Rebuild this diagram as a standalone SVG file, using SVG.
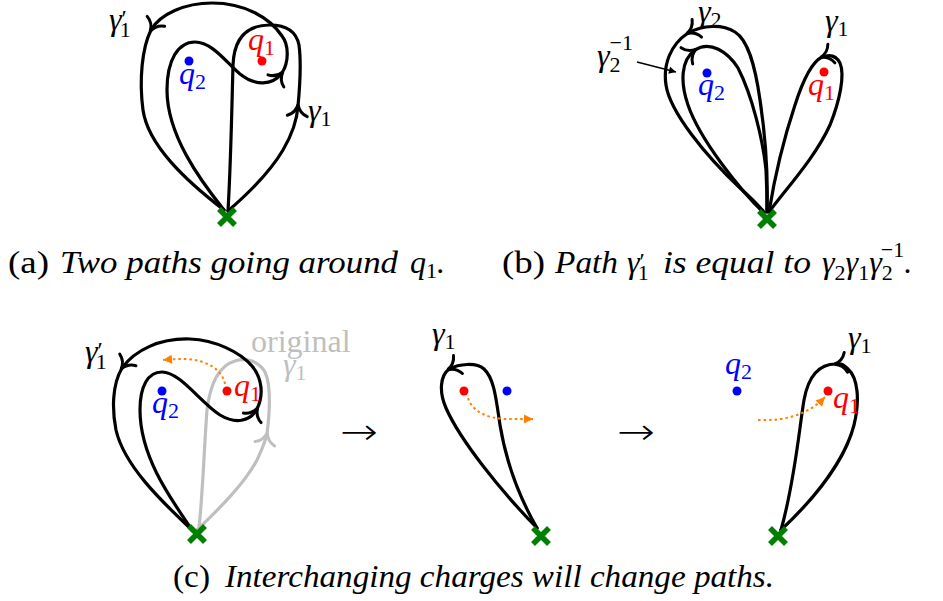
<svg xmlns="http://www.w3.org/2000/svg" width="943" height="601" viewBox="0 0 943 601">
<style>
.p{fill:none;stroke:#000;stroke-width:3.2;stroke-linecap:round;stroke-linejoin:round}
.pe{marker-end:url(#to)}
.gr{fill:none;stroke:#bfbfbf;stroke-width:3.2;stroke-linecap:round}
.ge{marker-end:url(#tog)}
.o{fill:none;stroke:#ff8000;stroke-width:2;stroke-dasharray:2.5 3;marker-end:url(#oa)}
.x{fill:none;stroke:#008000;stroke-width:5.5}
text{font-family:'Liberation Serif','DejaVu Serif',serif}
.m{font-style:italic;font-size:32px}
.s{font-style:normal;font-size:22px}
.pr{font-style:normal;font-size:24px}
.cap{font-size:32px}
.it{font-style:italic}
.red{fill:#ff0000}
.blue{fill:#0000ff}
.gt{fill:#bfbfbf}
.arr{font-family:'DejaVu Sans',sans-serif;font-size:36px;font-weight:200}
</style>
<defs>
<marker id="to" viewBox="-12 -12 15 24" markerWidth="15" markerHeight="24" refX="0" refY="0" orient="auto" markerUnits="userSpaceOnUse" overflow="visible"><path d="M-10,-10 C-8,-4.5 -3.5,-1.2 1.5,0 C-3.5,1.2 -8,4.5 -10,10" fill="none" stroke="#000" stroke-width="3" stroke-linecap="round"/></marker>
<marker id="tog" viewBox="-12 -12 15 24" markerWidth="15" markerHeight="24" refX="0" refY="0" orient="auto" markerUnits="userSpaceOnUse" overflow="visible"><path d="M-10,-10 C-8,-4.5 -3.5,-1.2 1.5,0 C-3.5,1.2 -8,4.5 -10,10" fill="none" stroke="#bfbfbf" stroke-width="3" stroke-linecap="round"/></marker>
<marker id="oa" viewBox="-10 -6 11 12" markerWidth="11" markerHeight="12" refX="0" refY="0" orient="auto" markerUnits="userSpaceOnUse" overflow="visible"><path d="M-9,-4.5 L0,0 L-9,4.5 z" fill="#ff8000"/></marker>
<marker id="ka" viewBox="-8 -5 9 10" markerWidth="9" markerHeight="10" refX="0" refY="0" orient="auto" markerUnits="userSpaceOnUse" overflow="visible"><path d="M-7,-3.5 L0,0 L-7,3.5 z" fill="#000"/></marker>
<path id="cross" d="M-8,-8 L8,8 M-8,8 L8,-8"/>
</defs>
<rect width="943" height="601" fill="#fff"/>

<!-- Panel (a) -->
<g id="panel-a">
  <g id="a-connectors">
    <path class="p pe" d="M224,210 C200,180 167,135 167,90 C167,60 178,42 195,42 C212,42 226,62 240,74 C255,86 272,86 282,73"/>
    <path class="p pe" d="M282,73 C289,62 289,45 282,36 C270,18 245,3 212,3 C185,3 160,14 151,30"/>
    <path class="p" d="M151,30 C142,48 139,80 143,110 C148,145 185,180 224,210"/>
    <path class="p pe" d="M228,211 C250,192 270,172 283,150 C293,133 297,120 298,106"/>
    <path class="p" d="M298,106 C300,85 301,60 299,45 C296,30 285,25 270,25 C245,25 234,40 233,65 C232,100 231,160 228,211"/>
  </g>
  <g id="a-q2"><circle cx="189" cy="61" r="4.5" fill="#0000ff"/><text class="m blue" x="179" y="84">q<tspan class="s" dy="5">2</tspan></text></g>
  <g id="a-q1"><circle cx="262" cy="61" r="4.5" fill="#ff0000"/><text class="m red" x="248" y="50">q<tspan class="s" dy="5">1</tspan></text></g>
  <g id="a-labels">
    <text class="m" x="109" y="30">γ<tspan class="pr" dy="-4">′</tspan><tspan class="s" dx="-7" dy="11">1</tspan></text>
    <text class="m" x="308" y="121">γ<tspan class="s" dy="5">1</tspan></text>
  </g>
  <g id="a-base"><use href="#cross" class="x" x="227" y="217"/></g>
</g>

<!-- Panel (b) -->
<g id="panel-b">
  <g id="b-connectors">
    <path class="p pe" d="M767,212 C768,180 766,140 760,100 C755,65 748,40 735,32 C722,24 703,25 688,33"/>
    <path class="p" d="M688,33 C670,45 663,65 666,85 C670,112 705,155 740,188 C750,197 758,205 764,212"/>
    <path class="p pe" d="M764,213 C740,190 700,140 688,105 C680,82 681,60 695,50"/>
    <path class="p" d="M695,50 C710,40 728,52 738,68 C752,95 763,140 766,170 C767,190 767,205 767,212"/>
    <path class="p pe" d="M769,212 C785,190 815,158 830,125 C840,100 845,75 840,63 C836,55 830,54 822,57"/>
    <path class="p" d="M822,57 C812,62 803,80 795,105 C785,135 775,175 769,212"/>
    <path d="M637,62 L676,72" fill="none" stroke="#000" stroke-width="1.3" marker-end="url(#ka)"/>
  </g>
  <g id="b-q2"><circle cx="707" cy="73" r="4.5" fill="#0000ff"/><text class="m blue" x="698" y="95">q<tspan class="s" dy="5">2</tspan></text></g>
  <g id="b-q1"><circle cx="824" cy="72" r="4.5" fill="#ff0000"/><text class="m red" x="808" y="95">q<tspan class="s" dy="5">1</tspan></text></g>
  <g id="b-labels">
    <text class="m" x="698" y="22">γ<tspan class="s" dy="5">2</tspan></text>
    <text class="m" x="825" y="31">γ<tspan class="s" dy="5">1</tspan></text>
    <text class="m" x="597" y="66">γ<tspan class="s" dy="6">2</tspan><tspan class="s" dx="-11" dy="-22">−1</tspan></text>
  </g>
  <g id="b-base"><use href="#cross" class="x" x="767" y="219"/></g>
</g>

<!-- Captions a, b -->
<g id="caption-a">
  <text class="cap" x="8" y="273" textLength="41" lengthAdjust="spacingAndGlyphs">(a)</text>
  <text class="cap it" x="60" y="273" textLength="338" lengthAdjust="spacingAndGlyphs">Two paths going around</text>
  <text class="m" x="410" y="273">q<tspan class="s" dy="5">1</tspan><tspan dy="-5">.</tspan></text>
</g>
<g id="caption-b">
  <text class="cap" x="502" y="273" textLength="43" lengthAdjust="spacingAndGlyphs">(b)</text>
  <text class="cap it" x="555" y="273" textLength="63" lengthAdjust="spacingAndGlyphs">Path</text>
  <text class="m" x="627" y="273">γ<tspan class="pr" dy="-4">′</tspan><tspan class="s" dx="-7" dy="11">1</tspan></text>
  <text class="cap it" x="663" y="273" textLength="148" lengthAdjust="spacingAndGlyphs">is equal to</text>
  <text class="m" x="822" y="273">γ<tspan class="s" dy="7">2</tspan><tspan dy="-7">γ</tspan><tspan class="s" dy="7">1</tspan><tspan dy="-7">γ</tspan><tspan class="s" dy="7">2</tspan><tspan class="s" dx="-12" dy="-23">−1</tspan><tspan dy="16">.</tspan></text>
</g>

<!-- Panel (c) left -->
<g id="panel-c1">
  <g id="c1-connectors">
    <path class="gr ge" d="M197,530 C220,508 245,483 257,460 C262,449 265,443 267,434"/>
    <path class="gr" d="M267,434 C270,410 271,385 265,372 C258,360 245,358 235,361 C218,366 210,385 207,410 C204,450 203,490 199,528"/>
    <path class="p pe" d="M192,530 C168,495 140,455 140,410 C140,386 148,372 162,372 C180,372 200,402 220,415 C235,424 250,422 257,409"/>
    <path class="p pe" d="M257,409 C264,395 262,378 252,366 C240,352 215,340 190,339 C160,338 135,350 122,368"/>
    <path class="p" d="M122,368 C112,385 112,410 116,430 C124,465 160,500 192,530"/>
    <path class="o" d="M225,384 C222,369 207,361 188,359 C180,359 174,359 163,360"/>
  </g>
  <g id="c1-q2"><circle cx="162" cy="391" r="4.5" fill="#0000ff"/><text class="m blue" x="152" y="413">q<tspan class="s" dy="5">2</tspan></text></g>
  <g id="c1-q1"><circle cx="227" cy="391" r="4.5" fill="#ff0000"/><text class="m red" x="234" y="396">q<tspan class="s" dy="5">1</tspan></text></g>
  <g id="c1-labels">
    <text class="m" x="85" y="362">γ<tspan class="pr" dy="-4">′</tspan><tspan class="s" dx="-7" dy="11">1</tspan></text>
    <text class="cap gt" x="251" y="352">original</text>
    <text class="m gt" x="283" y="375">γ<tspan class="s" dy="5">1</tspan></text>
  </g>
  <g id="c1-base"><use href="#cross" class="x" x="197" y="534"/></g>
</g>

<text class="arr" x="340" y="444" textLength="38" lengthAdjust="spacingAndGlyphs">→</text>

<!-- Panel (c) middle -->
<g id="panel-c2">
  <g id="c2-connectors">
    <path class="p pe" d="M537,528 C515,490 505,455 500,425 C496,398 494,378 484,369 C476,362 459,364 449,369"/>
    <path class="p" d="M449,369 C440,376 439,392 446,408 C460,440 500,490 537,528"/>
    <path class="o" d="M468,398 C472,411 486,418 505,419 L533,419"/>
  </g>
  <g id="c2-q1"><circle cx="464" cy="391" r="4.5" fill="#ff0000"/></g>
  <g id="c2-q2"><circle cx="507" cy="391" r="4.5" fill="#0000ff"/></g>
  <g id="c2-labels"><text class="m" x="432" y="344">γ<tspan class="s" dy="5">1</tspan></text></g>
  <g id="c2-base"><use href="#cross" class="x" x="541" y="536"/></g>
</g>

<text class="arr" x="617" y="444" textLength="38" lengthAdjust="spacingAndGlyphs">→</text>

<!-- Panel (c) right -->
<g id="panel-c3">
  <g id="c3-connectors">
    <path class="p pe" d="M781,530 C815,498 845,460 854,425 C860,400 858,378 848,369 C844,365 842,363 836,364"/>
    <path class="p" d="M836,364 C818,364 808,378 804,400 C799,430 795,480 781,530"/>
    <path class="o" d="M758,420 C785,421 808,415 825,397"/>
  </g>
  <g id="c3-q2"><circle cx="737" cy="391" r="4.5" fill="#0000ff"/><text class="m blue" x="725" y="374">q<tspan class="s" dy="5">2</tspan></text></g>
  <g id="c3-q1"><circle cx="828" cy="391" r="4.5" fill="#ff0000"/><text class="m red" x="833" y="408">q<tspan class="s" dy="5">1</tspan></text></g>
  <g id="c3-labels"><text class="m" x="848" y="348">γ<tspan class="s" dy="5">1</tspan></text></g>
  <g id="c3-base"><use href="#cross" class="x" x="778" y="536"/></g>
</g>

<g id="caption-c">
  <text class="cap" x="173" y="587" textLength="37" lengthAdjust="spacingAndGlyphs">(c)</text>
  <text class="cap it" x="225" y="587" textLength="549" lengthAdjust="spacingAndGlyphs">Interchanging charges will change paths.</text>
</g>
</svg>
